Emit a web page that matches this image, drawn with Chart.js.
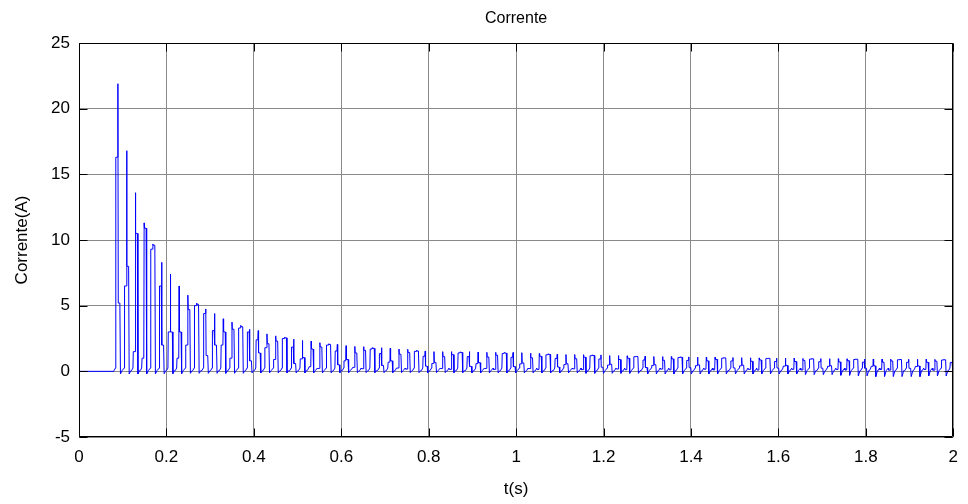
<!DOCTYPE html>
<html>
<head>
<meta charset="utf-8">
<script src="https://cdn.jsdelivr.net/npm/chart.js@4.4.0/dist/chart.umd.min.js"></script>
<style>
  html, body { margin: 0; padding: 0; background: #fff; }
</style>
</head>
<body>
<canvas id="currentChart" width="968" height="504"></canvas>
<script>
// Pulse times (s)
const pulseTimes = [
    0.089, 0.109, 0.129, 0.149, 0.169, 0.189, 0.209, 0.229, 0.249, 0.269,
    0.290, 0.310, 0.330, 0.350, 0.370, 0.390, 0.410, 0.430, 0.450, 0.470,
    0.491, 0.511, 0.531, 0.551, 0.571, 0.591, 0.611, 0.631, 0.651, 0.671,
    0.692, 0.712, 0.732, 0.752, 0.772, 0.792, 0.812, 0.832, 0.852, 0.872,
    0.893, 0.913, 0.933, 0.953, 0.973, 0.993, 1.013, 1.033, 1.053, 1.073,
    1.094, 1.114, 1.134, 1.154, 1.174, 1.194, 1.214, 1.234, 1.254, 1.274,
    1.295, 1.315, 1.335, 1.355, 1.375, 1.395, 1.415, 1.435, 1.455, 1.475,
    1.496, 1.516, 1.536, 1.556, 1.576, 1.596, 1.616, 1.636, 1.656, 1.676,
    1.697, 1.717, 1.737, 1.757, 1.777, 1.797, 1.817, 1.837, 1.857, 1.877,
    1.898, 1.918, 1.938, 1.958, 1.978, 1.998
];

// Peak current of each pulse (A)
const peakValues = [
    21.9, 16.8, 13.6, 11.3, 9.7, 8.3, 7.4, 6.5, 5.8, 5.2,
    4.75, 4.4, 4.0, 3.75, 3.5, 3.2, 3.1, 2.85, 2.7, 2.6,
    2.45, 2.35, 2.3, 2.18, 2.1, 2.05, 1.95, 1.9, 1.88, 1.8,
    1.8, 1.75, 1.7, 1.68, 1.6, 1.55, 1.5, 1.5, 1.5, 1.48,
    1.5, 1.47, 1.45, 1.45, 1.43, 1.43, 1.42, 1.38, 1.35, 1.33,
    1.3, 1.28, 1.28, 1.27, 1.25, 1.25, 1.2, 1.2, 1.18, 1.17,
    1.15, 1.13, 1.12, 1.12, 1.1, 1.1, 1.08, 1.07, 1.07, 1.05,
    1.05, 1.04, 1.03, 1.02, 1.02, 1.0, 1.0, 1.0, 0.98, 0.98,
    0.97, 0.96, 0.96, 0.95, 0.95, 0.94, 0.94, 0.93, 0.93, 0.93,
    0.92, 0.92, 0.92, 0.91, 0.91, 0.9
];

// Step on the rising edge of each pulse (A)
const riseValues = [
    16.3, 6.5, 1.5, 1.0, 9.3, 6.5, 3.0, 1.0, 2.0, 5.0,
    4.4, 3.1, 2.0, 1.0, 3.3, 3.0, 2.4, 1.8, 0.9, 2.5,
    1.85, 0.95, 0.35, 0.22, 2.0, 1.55, 0.8, 0.3, 0.2, 1.7,
    1.35, 0.7, 0.25, 0.17, 1.52, 1.15, 0.6, 0.22, 0.15, 1.4,
    1.12, 0.59, 0.22, 0.15, 1.36, 1.07, 0.57, 0.21, 0.14, 1.26,
    0.98, 0.51, 0.19, 0.13, 1.19, 0.94, 0.48, 0.18, 0.12, 1.11,
    0.86, 0.45, 0.17, 0.11, 1.05, 0.83, 0.43, 0.16, 0.11, 1.0,
    0.79, 0.42, 0.15, 0.1, 0.97, 0.75, 0.4, 0.15, 0.1, 0.93,
    0.73, 0.38, 0.14, 0.1, 0.9, 0.7, 0.38, 0.14, 0.09, 0.88,
    0.69, 0.37, 0.14, 0.09, 0.86, 0.68
];

// Step on the falling edge of each pulse (A)
const fallValues = [
    5.2, 8.0, 10.5, 10.9, 9.6, 2.0, 3.0, 3.0, 4.7, 5.1,
    1.2, 2.0, 3.0, 3.2, 3.4, 0.8, 1.4, 2.1, 2.3, 2.55,
    0.6, 1.05, 1.7, 1.85, 2.05, 0.5, 0.9, 1.4, 1.6, 1.75,
    0.45, 0.8, 1.3, 1.43, 1.55, 0.4, 0.68, 1.12, 1.27, 1.44,
    0.38, 0.66, 1.09, 1.23, 1.39, 0.36, 0.64, 1.03, 1.15, 1.29,
    0.33, 0.58, 0.96, 1.08, 1.21, 0.31, 0.54, 0.9, 1.0, 1.13,
    0.29, 0.51, 0.84, 0.95, 1.07, 0.28, 0.49, 0.8, 0.91, 1.02,
    0.26, 0.47, 0.77, 0.87, 0.99, 0.25, 0.45, 0.75, 0.83, 0.95,
    0.24, 0.43, 0.72, 0.81, 0.92, 0.24, 0.42, 0.7, 0.79, 0.9,
    0.23, 0.41, 0.69, 0.77, 0.88, 0.23
];

// Small undershoot after each pulse (A)
const dipValues = [
    -0.2, -0.2, -0.2, -0.2, -0.2, -0.18, -0.18, -0.18, -0.15, -0.15,
    -0.15, -0.15, -0.15, -0.15, -0.15, -0.12, -0.12, -0.12, -0.12, -0.12,
    -0.12, -0.12, -0.12, -0.12, -0.12, -0.1, -0.1, -0.1, -0.1, -0.1,
    -0.1, -0.1, -0.1, -0.1, -0.1, -0.1, -0.1, -0.1, -0.1, -0.1,
    -0.12, -0.12, -0.12, -0.12, -0.12, -0.12, -0.12, -0.12, -0.12, -0.12,
    -0.12, -0.12, -0.12, -0.15, -0.15, -0.15, -0.15, -0.15, -0.15, -0.15,
    -0.2, -0.2, -0.2, -0.2, -0.2, -0.2, -0.2, -0.2, -0.2, -0.2,
    -0.2, -0.2, -0.2, -0.2, -0.2, -0.2, -0.2, -0.2, -0.25, -0.25,
    -0.25, -0.25, -0.3, -0.3, -0.35, -0.35, -0.4, -0.4, -0.4, -0.4,
    -0.4, -0.4, -0.35, -0.35, -0.35, -0.35
];

const xTicks = [0, 0.2, 0.4, 0.6, 0.8, 1, 1.2, 1.4, 1.6, 1.8, 2];
const yTicks = [-5, 0, 5, 10, 15, 20, 25];

// Build the waveform: flat start, then one pulse per entry
function buildSeries() {
    const pts = [{ x: 0, y: 0 }, { x: 0.078, y: 0 }];
    for (let i = 0; i < pulseTimes.length; i++) {
        const t = pulseTimes[i];
        pts.push({ x: t - 0.009, y: 0.05 });
        pts.push({ x: t - 0.0056, y: 0.25 });
        pts.push({ x: t - 0.0048, y: riseValues[i] });
        pts.push({ x: t - 0.0008, y: riseValues[i] });
        pts.push({ x: t, y: peakValues[i] });
        pts.push({ x: t + 0.0008, y: fallValues[i] });
        pts.push({ x: t + 0.0045, y: fallValues[i] });
        pts.push({ x: t + 0.0058, y: dipValues[i] });
        pts.push({ x: t + 0.0095, y: 0.05 });
    }
    return pts;
}

const FONT = "'Liberation Sans', Arial, sans-serif";
Chart.defaults.color = '#000';
Chart.defaults.font.family = FONT;

// Black box and inward tick marks, MATLAB style
const boxTicks = {
    id: 'boxTicks',
    afterDatasetsDraw(chart) {
        const { ctx, chartArea: a, scales: { x, y } } = chart;
        const L = Math.round(a.left) + 0.5, R = Math.round(a.right) - 0.5;
        const T = Math.round(a.top) + 0.5, B = Math.round(a.bottom) - 0.5;
        const len = 8;
        ctx.save();
        ctx.strokeStyle = '#000';
        ctx.lineWidth = 1;
        ctx.beginPath();
        ctx.rect(L, T, R - L, B - T);
        xTicks.forEach(v => {
            const px = Math.round(x.getPixelForValue(v)) + 0.5;
            ctx.moveTo(px, B); ctx.lineTo(px, B - len);
            ctx.moveTo(px, T); ctx.lineTo(px, T + len);
        });
        yTicks.forEach(v => {
            const py = Math.round(y.getPixelForValue(v)) + 0.5;
            ctx.moveTo(L, py); ctx.lineTo(L + len, py);
            ctx.moveTo(R, py); ctx.lineTo(R - len, py);
        });
        ctx.stroke();
        ctx.restore();
    }
};

const ctx = document.getElementById('currentChart').getContext('2d');
new Chart(ctx, {
    type: 'line',
    data: {
        datasets: [{
            label: 'Corrente',
            data: buildSeries(),
            borderColor: '#0000ff',
            borderWidth: 1,
            pointRadius: 0,
            tension: 0,
            fill: false
        }]
    },
    options: {
        responsive: false,
        animation: false,
        layout: { padding: { left: 0, right: 14, top: 0, bottom: 0 } },
        plugins: {
            legend: { display: false },
            tooltip: { enabled: false },
            title: { display: false }
        },
        scales: {
            x: {
                type: 'linear',
                min: 0,
                max: 2,
                afterBuildTicks: s => { s.ticks = xTicks.map(v => ({ value: v })); },
                afterFit: s => { s.height = 67; },
                ticks: {
                    padding: 10,
                    maxRotation: 0,
                    font: { size: 17 },
                    callback: v => String(+v.toFixed(1))
                },
                grid: { color: '#8a8a8a', drawTicks: false },
                border: { display: false },
                title: {
                    display: true,
                    text: 't(s)',
                    font: { size: 17 },
                    padding: { top: 0, bottom: 4 }
                }
            },
            // top axis only carries the chart title, centred over the plot
            xTop: {
                type: 'linear',
                position: 'top',
                min: 0,
                max: 2,
                afterFit: s => { s.height = 43; },
                ticks: { display: false },
                grid: { display: false, drawTicks: false },
                border: { display: false },
                title: {
                    display: true,
                    text: 'Corrente',
                    font: { size: 16 },
                    padding: { top: 9, bottom: 0 }
                }
            },
            y: {
                min: -5,
                max: 25,
                afterBuildTicks: s => { s.ticks = yTicks.map(v => ({ value: v })); },
                afterFit: s => { s.width = 79; },
                ticks: { padding: 9, font: { size: 17 } },
                grid: { color: '#8a8a8a', drawTicks: false },
                border: { display: false },
                title: {
                    display: true,
                    text: 'Corrente(A)',
                    font: { size: 17 },
                    padding: { top: 12, bottom: 0 }
                }
            }
        }
    },
    plugins: [boxTicks]
});
</script>
</body>
</html>
